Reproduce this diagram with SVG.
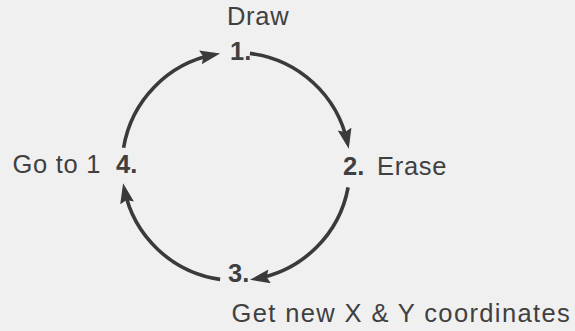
<svg xmlns="http://www.w3.org/2000/svg" width="575" height="331" viewBox="0 0 575 331">
  <defs>
    <style>
      .lbl { font-family: "Liberation Sans", Arial, sans-serif; font-size: 25.5px; fill: #404040; letter-spacing: 0.7px; }
      .num { font-weight: bold; letter-spacing: 0; }
      .arc { fill: none; stroke: #3a3a3a; stroke-width: 3.6; marker-end: url(#arrow); }
    </style>
    <marker id="arrow" markerUnits="userSpaceOnUse" markerWidth="22" markerHeight="16" refX="14" refY="7" orient="auto">
      <path d="M0,0 L20,7 L0,14 L3,7 z" fill="#3a3a3a"/>
    </marker>
  </defs>
  <rect width="575" height="331" fill="#f0f0f0"/>
  <g id="connectors">
    <path class="arc" d="M249.9,53.4 A114,114 0 0 1 347.5,142.8"/>
    <path class="arc" d="M348.1,187.3 A114,114 0 0 1 255.8,278.8"/>
    <path class="arc" d="M220.1,279.4 A114,114 0 0 1 124.3,189.2"/>
    <path class="arc" d="M123.6,147.7 A114,114 0 0 1 214.2,54.6"/>
  </g>
  <g id="node1">
    <text class="lbl" x="227" y="25">Draw</text>
    <text class="lbl num" x="230" y="60">1.</text>
  </g>
  <g id="node2">
    <text class="lbl num" x="343" y="175">2.</text>
    <text class="lbl" x="377" y="174.5">Erase</text>
  </g>
  <g id="node3">
    <text class="lbl num" x="228" y="282">3.</text>
    <text class="lbl" x="231.5" y="321.5" textLength="339" lengthAdjust="spacing">Get new X &amp; Y coordinates</text>
  </g>
  <g id="node4">
    <text class="lbl" x="12.5" y="173">Go to 1</text>
    <text class="lbl num" x="116" y="173">4.</text>
  </g>
</svg>
